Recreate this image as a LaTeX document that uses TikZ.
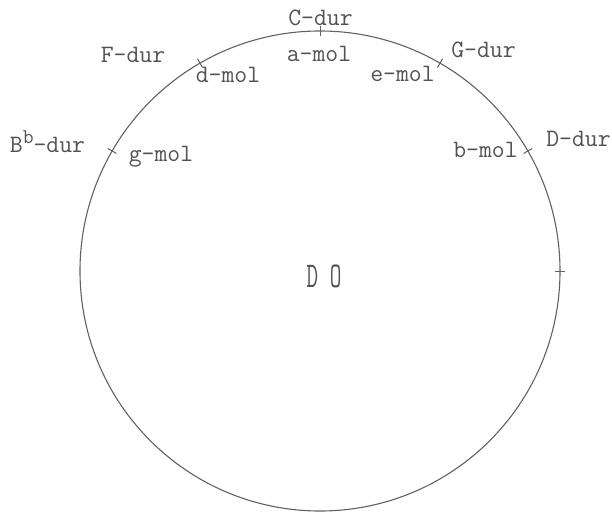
\documentclass[tikz,border=0pt]{standalone}
\usetikzlibrary{calc}
\begin{document}
\begin{tikzpicture}[x=1pt,y=1pt,
  ink/.style={draw=black!62,line width=1.1pt},
  lbl/.style={inner sep=0pt,anchor=base,text=black!68,font=\ttfamily\fontsize{25}{25}\selectfont},
  big/.style={inner sep=0pt,anchor=base,text=black!68,font=\ttfamily\fontsize{25}{25}\selectfont}]
\useasboundingbox (0,0) rectangle (612,512);
\coordinate (ctr) at (320,241);
\draw[ink] (ctr) circle[radius=240];
\foreach \a in {0,30,60,90,120,150}{
  \draw[ink,line width=1pt] ($(ctr)+(\a:235)$) -- ($(ctr)+(\a:245)$);
}
\node[lbl] (cdur) at (320.5,486) {C-dur};
\node[lbl] (amol) at (319,450) {a-mol};
\node[lbl] (fdur) at (133,449) {F-dur};
\node[lbl] (dmol) at (228,429) {d-mol};
\node[lbl] (bdur) at (47.5,359) {B\raisebox{9pt}{\fontsize{21}{21}\selectfont b}-dur};
\node[lbl] (gmol) at (161,350) {g-mol};
\node[lbl] (gdur) at (483.5,454) {G-dur};
\node[lbl] (emol) at (402.5,430) {e-mol};
\node[lbl] (ddur) at (578.5,365) {D-dur};
\node[lbl] (bmol) at (485.5,354) {b-mol};
\node[big] (do) at (324,225) {\scalebox{0.9}[1.45]{D O}};
\end{tikzpicture}
\end{document}
